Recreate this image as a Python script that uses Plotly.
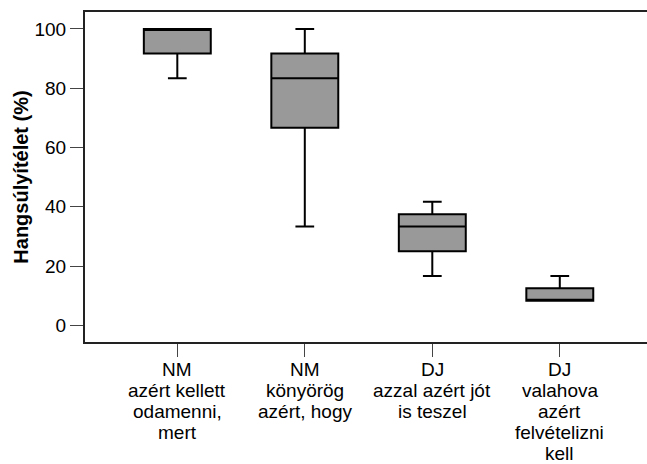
"""
Boxplot of stress judgements (Hangsúlyítélet) for four sentence types.
"""

import plotly.graph_objects as go

category_lines = [
    ["NM", "azért kellett", "odamenni,", "mert"],
    ["NM", "könyörög", "azért, hogy"],
    ["DJ", "azzal azért jót", "is teszel"],
    ["DJ", "valahova", "azért", "felvételizni", "kell"],
]
positions = [0, 1, 2, 3]
lower_whisker = [83.33, 33.33, 16.67, 8.33]
q1_values = [91.67, 66.67, 25.0, 8.33]
median_values = [100.0, 83.33, 33.33, 8.33]
q3_values = [100.0, 91.67, 37.5, 12.5]
upper_whisker = [100.0, 100.0, 41.67, 16.67]
y_ticks = [0, 20, 40, 60, 80, 100]

FONT = "Liberation Sans, Arial, sans-serif"
LINE_STEP = 21

fig = go.Figure(
    go.Box(
        x=positions,
        q1=q1_values,
        median=median_values,
        q3=q3_values,
        lowerfence=lower_whisker,
        upperfence=upper_whisker,
        width=0.525,
        whiskerwidth=0.28,
        fillcolor="#999999",
        line={"color": "black", "width": 2},
        boxpoints=False,
        hoverinfo="skip",
        showlegend=False,
    )
)

# category labels: one annotation per line so the line spacing stays tight
for pos, lines in zip(positions, category_lines):
    for i, line in enumerate(lines):
        fig.add_annotation(
            x=pos,
            xref="x",
            y=0,
            yref="paper",
            yanchor="middle",
            yshift=-27.5 - LINE_STEP * i,
            text=line,
            showarrow=False,
            font={"size": 19},
        )

fig.update_layout(
    width=647,
    height=464,
    margin={"l": 85, "r": 0, "t": 12, "b": 122},
    paper_bgcolor="white",
    plot_bgcolor="white",
    font={"family": FONT, "color": "black", "size": 19},
    xaxis={
        "range": [-0.724, 3.684],
        "tickvals": positions,
        "showticklabels": False,
        "ticks": "outside",
        "ticklen": 13,
        "tickcolor": "#444444",
        "showgrid": False,
        "zeroline": False,
        "showline": True,
        "linecolor": "#222222",
        "linewidth": 2,
        "mirror": True,
    },
    yaxis={
        "range": [-5.6, 105.7],
        "tickvals": y_ticks,
        "ticks": "outside",
        "ticklen": 13,
        "tickcolor": "#444444",
        "showgrid": False,
        "zeroline": False,
        "showline": True,
        "linecolor": "#222222",
        "linewidth": 2,
        "mirror": False,
        "tickfont": {"size": 19},
        "title": {
            "text": "Hangsúlyítélet (%)",
            "font": {"size": 20, "weight": "bold"},
            "standoff": 0,
        },
    },
)

fig.write_html(
    "out.html",
    config={"displayModeBar": False},
    post_script="document.body.style.margin = '0';",
)
